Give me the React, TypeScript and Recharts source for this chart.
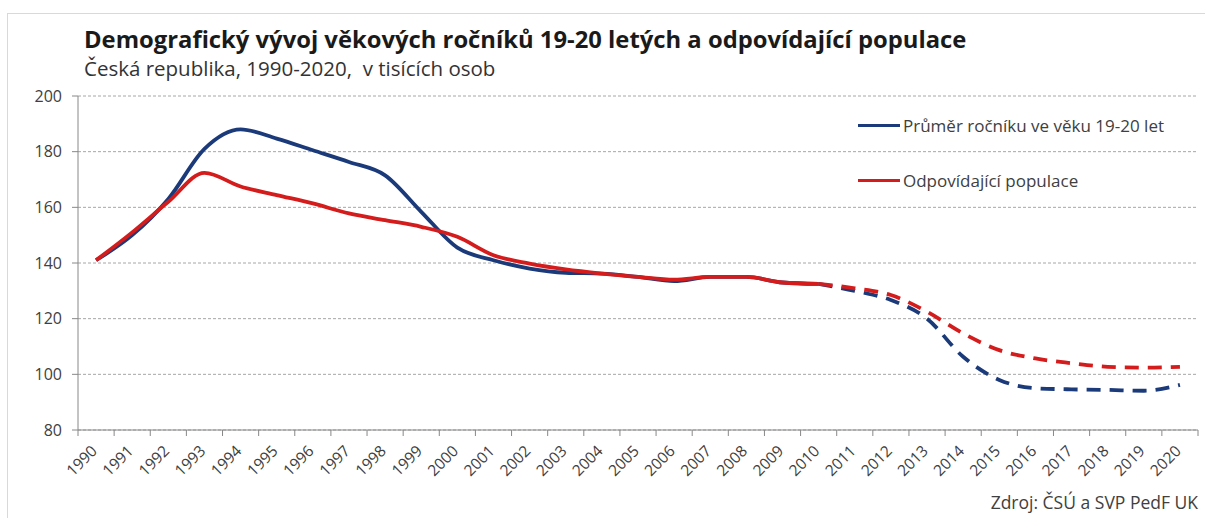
import { CartesianGrid, Legend, Line, LineChart, XAxis, YAxis } from "recharts";

// roky 1990–2020, od 2010 projekce (čárkovaně)
const years = [
  "1990", "1991", "1992", "1993", "1994", "1995", "1996", "1997", "1998", "1999",
  "2000", "2001", "2002", "2003", "2004", "2005", "2006", "2007", "2008", "2009",
  "2010", "2011", "2012", "2013", "2014", "2015", "2016", "2017", "2018", "2019", "2020",
];
const prumerRocniku = [
  141, 150, 163, 181, 188, 184.7, 180.5, 176.3, 171.5, 158.4,
  145.5, 141, 138, 136.5, 136.2, 135, 133.5, 135, 135, 133,
  132.5, 130, 126.7, 120, 106.3, 98, 95, 94.6, 94.4, 94.1, 96.2,
];
const odpovidajiciPopulace = [
  141, 151, 162, 172.4, 167.5, 164.4, 161.4, 157.8, 155.4, 153,
  149.4, 142.8, 139.8, 137.7, 136.2, 135, 134, 135, 135, 133,
  132.5, 130.9, 128.5, 122.5, 114.7, 108.7, 105.7, 104, 102.7, 102.4, 102.7,
];
const yTicks = [80, 100, 120, 140, 160, 180, 200];
const projectionFrom = "2010";
const seriesNames = ["Průměr ročníku ve věku 19-20 let", "Odpovídající populace"];

const BLUE = "#1b3a7a";
const RED = "#d41c1c";
const FONT = "'Open Sans', sans-serif";
const TEXT = "#404040";
const HALF_STEP = 1120 / 31 / 2;

const splitAt = years.indexOf(projectionFrom);
const rows = years.map((year, i) => ({
  year,
  blue: i <= splitAt ? prumerRocniku[i] : null,
  blueP: i >= splitAt ? prumerRocniku[i] : null,
  red: i <= splitAt ? odpovidajiciPopulace[i] : null,
  redP: i >= splitAt ? odpovidajiciPopulace[i] : null,
}));

function YearTick(props: any) {
  const { x, y, payload, index } = props;
  const tx = x + 2;
  const ty = y + 22;
  return (
    <g>
      <line x1={x - HALF_STEP} x2={x - HALF_STEP} y1={y} y2={y + 6} stroke="#888" />
      {index === years.length - 1 && (
        <line x1={x + HALF_STEP} x2={x + HALF_STEP} y1={y} y2={y + 6} stroke="#888" />
      )}
      <text
        x={tx}
        y={ty}
        textAnchor="end"
        fontSize={15.5}
        fontFamily={FONT}
        fill={TEXT}
        transform={`rotate(-45, ${tx}, ${ty})`}
      >
        {payload.value}
      </text>
    </g>
  );
}

function LegendBox(props: any) {
  const items = (props.payload || [])
    .filter((p: any) => p.type !== "none")
    .sort((a: any, b: any) => seriesNames.indexOf(a.value) - seriesNames.indexOf(b.value));
  return (
    <div style={{ fontFamily: FONT, fontSize: 17, color: TEXT }}>
      {items.map((it: any) => (
        <div key={it.value} style={{ display: "flex", alignItems: "center", height: 55 }}>
          <span style={{ display: "inline-block", width: 42, height: 3.5, background: it.color }} />
          <span style={{ marginLeft: 3 }}>{it.value}</span>
        </div>
      ))}
    </div>
  );
}

export default function App() {
  return (
    <div style={{ position: "absolute", left: 0, top: 0, width: 1205, height: 518, background: "#fff" }}>
      <div
        style={{
          position: "absolute",
          left: 7,
          top: 13,
          width: 1220,
          height: 540,
          border: "1px solid #d9d9d9",
        }}
      />
      <div
        style={{
          position: "absolute",
          left: 84,
          top: 23,
          fontFamily: FONT,
          fontWeight: 700,
          fontSize: 23.8,
          color: "#1a1a1a",
          whiteSpace: "nowrap",
        }}
      >
        Demografický vývoj věkových ročníků 19-20 letých a odpovídající populace
      </div>
      <div
        style={{
          position: "absolute",
          left: 84,
          top: 54,
          fontFamily: FONT,
          fontSize: 20.5,
          color: "#333",
          whiteSpace: "nowrap",
        }}
      >
        Česká republika, 1990-2020,&nbsp; v tisících osob
      </div>
      <div
        style={{
          position: "absolute",
          right: 7,
          top: 490,
          fontFamily: FONT,
          fontSize: 17.5,
          color: TEXT,
          whiteSpace: "nowrap",
        }}
      >
        Zdroj: ČSÚ a SVP PedF UK
      </div>
      <LineChart
        width={1205}
        height={518}
        data={rows}
        margin={{ top: 96, right: 7, bottom: 28, left: 38 }}
        style={{ position: "absolute", left: 0, top: 0 }}
      >
        <CartesianGrid vertical={false} stroke="#a6a6a6" strokeDasharray="3 2" />
        <XAxis
          dataKey="year"
          height={60}
          padding={{ left: HALF_STEP, right: HALF_STEP }}
          stroke="#888"
          tickLine={false}
          tickSize={0}
          tickMargin={0}
          interval={0}
          tick={<YearTick />}
        />
        <YAxis
          width={40}
          domain={[80, 200]}
          ticks={yTicks}
          interval={0}
          stroke="#888"
          tickSize={6}
          tickMargin={10}
          tick={{ fill: TEXT, fontSize: 16, fontFamily: FONT }}
        />
        <Legend
          layout="vertical"
          verticalAlign="middle"
          align="center"
          wrapperStyle={{ left: 858, top: 98, width: 340 }}
          content={<LegendBox />}
        />
        <Line
          dataKey="blue"
          name={seriesNames[0]}
          type="monotone"
          stroke={BLUE}
          strokeWidth={3.8}
          dot={false}
          isAnimationActive={false}
        />
        <Line
          dataKey="blueP"
          legendType="none"
          type="monotone"
          stroke={BLUE}
          strokeWidth={3.8}
          strokeDasharray="14 9"
          dot={false}
          isAnimationActive={false}
        />
        <Line
          dataKey="red"
          name={seriesNames[1]}
          type="monotone"
          stroke={RED}
          strokeWidth={3.8}
          dot={false}
          isAnimationActive={false}
        />
        <Line
          dataKey="redP"
          legendType="none"
          type="monotone"
          stroke={RED}
          strokeWidth={3.8}
          strokeDasharray="14 9"
          dot={false}
          isAnimationActive={false}
        />
      </LineChart>
    </div>
  );
}
